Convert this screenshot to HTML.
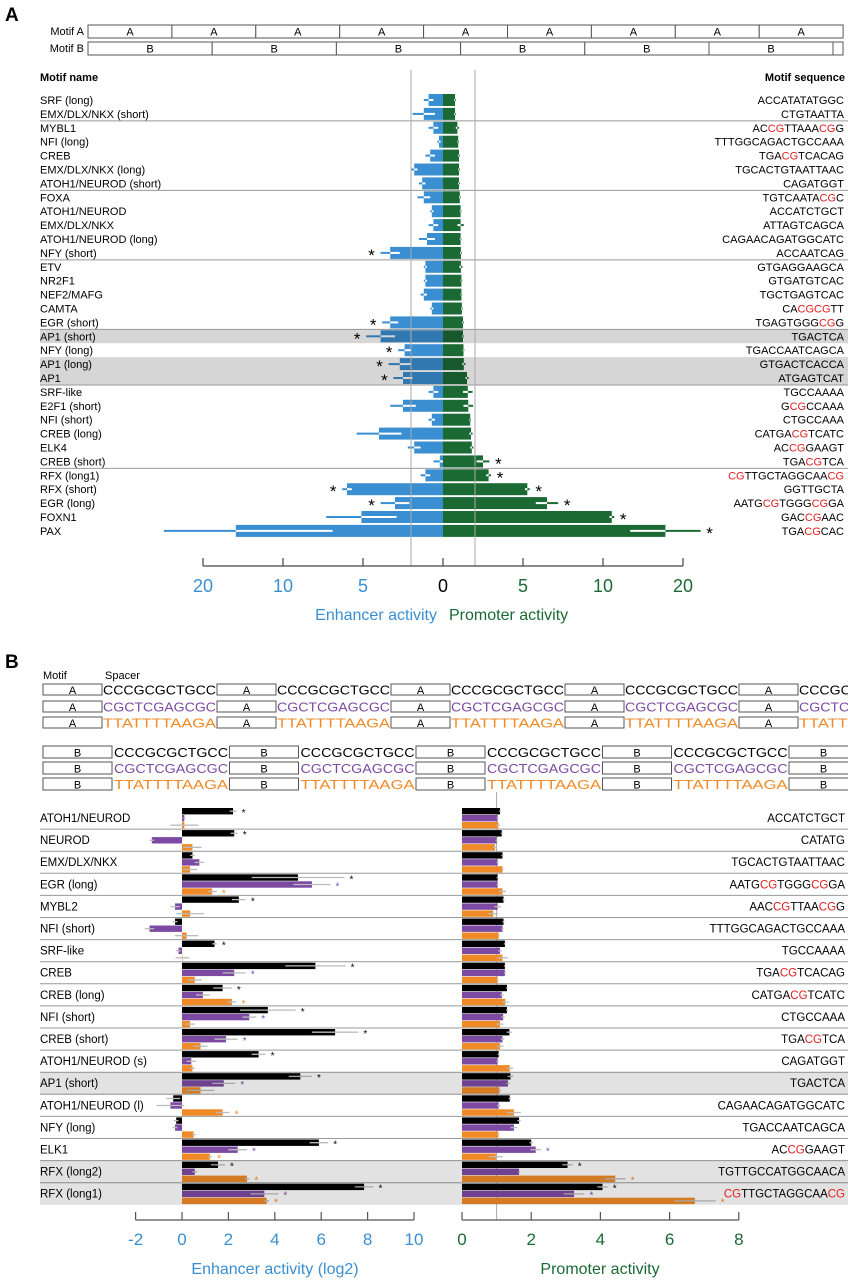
<!DOCTYPE html>
<html><head><meta charset="utf-8"><style>
html,body{margin:0;padding:0;background:#fff;}
svg{display:block;font-family:"Liberation Sans",Arial,sans-serif;}
</style></head><body>
<svg id="fig" width="848" height="1280" viewBox="0 0 848 1280" xmlns="http://www.w3.org/2000/svg"></svg>
<script>
// ---------- Panel A data ----------
const aNames=["SRF (long)","EMX/DLX/NKX (short)","MYBL1","NFI (long)","CREB","EMX/DLX/NKX (long)","ATOH1/NEUROD (short)","FOXA","ATOH1/NEUROD","EMX/DLX/NKX","ATOH1/NEUROD (long)","NFY (short)","ETV","NR2F1","NEF2/MAFG","CAMTA","EGR (short)","AP1 (short)","NFY (long)","AP1 (long)","AP1","SRF-like","E2F1 (short)","NFI (short)","CREB (long)","ELK4","CREB (short)","RFX (long1)","RFX (short)","EGR (long)","FOXN1","PAX"];
const aSeqs=["ACCATATATGGC","CTGTAATTA","AC[CG]TTAAA[CG]G","TTTGGCAGACTGCCAAA","TGA[CG]TCACAG","TGCACTGTAATTAAC","CAGATGGT","TGTCAATA[CG]C","ACCATCTGCT","ATTAGTCAGCA","CAGAACAGATGGCATC","ACCAATCAG","GTGAGGAAGCA","GTGATGTCAC","TGCTGAGTCAC","CA[CGCG]TT","TGAGTGGG[CG]G","TGACTCA","TGACCAATCAGCA","GTGACTCACCA","ATGAGTCAT","TGCCAAAA","G[CG]CCAAA","CTGCCAAA","CATGA[CG]TCATC","AC[CG]GAAGT","TGA[CG]TCA","[CG]TTGCTAGGCAA[CG]","GGTTGCTA","AATG[CG]TGGG[CG]GA","GAC[CG]AAC","TGA[CG]CAC"];
const aEnh=[0.9,1.2,0.6,0.25,0.8,1.8,1.3,1.2,0.7,0.6,1.0,3.3,1.1,1.1,1.2,0.7,3.3,3.9,2.4,2.7,2.5,0.6,2.5,0.7,4.0,1.8,0.2,1.1,6.0,3.0,5.1,15.9];
const aEnhErr=[0.3,0.7,0.3,0.1,0.3,0.2,0.2,0.4,0.1,0.3,0.5,0.6,0.1,0.1,0.2,0.1,0.5,0.9,0.4,0.7,0.6,0.3,0.8,0.2,1.4,0.4,0.4,0.3,0.3,0.9,2.2,9];
const aPro=[0.75,0.75,0.9,0.95,1.0,1.0,1.0,1.05,1.1,1.1,1.1,1.12,1.12,1.15,1.15,1.18,1.25,1.25,1.28,1.3,1.5,1.55,1.58,1.7,1.75,1.8,2.5,2.85,5.27,6.5,11.1,17.8];
const aProErr=[0.05,0.05,0.1,0.05,0.05,0.05,0.05,0.05,0.05,0.2,0.05,0.05,0.1,0.05,0.05,0.05,0.05,0.05,0.05,0.1,0.1,0.3,0.3,0.05,0.1,0.1,0.4,0.15,0.15,0.7,0.3,4.4];
const aEnhStar=[0,0,0,0,0,0,0,0,0,0,0,1,0,0,0,0,1,1,1,1,1,0,0,0,0,0,0,0,1,1,0,0];
const aProStar=[0,0,0,0,0,0,0,0,0,0,0,0,0,0,0,0,0,0,0,0,0,0,0,0,0,0,1,1,1,1,1,1];
const aShade=[17,19,20];
const aSeps=[1,6,11,16,20,26];
const aTickVals=[-20,-10,-5,0,5,10,20];
const aTickLabels=["20","10","5","0","5","10","20"];

// ---------- Panel B data ----------
const bNames=["ATOH1/NEUROD","NEUROD","EMX/DLX/NKX","EGR (long)","MYBL2","NFI (short)","SRF-like","CREB","CREB (long)","NFI (short)","CREB (short)","ATOH1/NEUROD (s)","AP1 (short)","ATOH1/NEUROD (l)","NFY (long)","ELK1","RFX (long2)","RFX (long1)"];
const bSeqs=["ACCATCTGCT","CATATG","TGCACTGTAATTAAC","AATG[CG]TGGG[CG]GA","AAC[CG]TTAA[CG]G","TTTGGCAGACTGCCAAA","TGCCAAAA","TGA[CG]TCACAG","CATGA[CG]TCATC","CTGCCAAA","TGA[CG]TCA","CAGATGGT","TGACTCA","CAGAACAGATGGCATC","TGACCAATCAGCA","AC[CG]GAAGT","TGTTGCCATGGCAACA","[CG]TTGCTAGGCAA[CG]"];
const bEnhK=[2.2,2.25,0.45,5.0,2.45,-0.3,1.4,5.75,1.75,3.7,6.6,3.3,5.1,-0.38,-0.25,5.9,1.55,7.85];
const bEnhP=[0.1,-1.3,0.75,5.6,-0.3,-1.4,-0.15,2.25,0.9,2.9,1.9,0.4,1.8,-0.5,-0.3,2.4,0.55,3.55];
const bEnhO=[0.1,0.45,0.35,1.3,0.35,0.2,0.02,0.55,2.15,0.35,0.8,0.45,0.8,1.75,0.5,1.2,2.8,3.65];
const bEnhKErr=[0.15,0.15,0.1,2.0,0.3,0.1,0.1,1.3,0.4,1.2,1.0,0.3,0.5,0.3,0.1,0.4,0.3,0.4];
const bEnhPErr=[0.05,0.1,0.2,0.8,0.2,0.2,0.1,0.5,0.3,0.3,0.5,0.2,0.5,0.6,0.1,0.4,0.1,0.6];
const bEnhOErr=[0.6,0.4,0.3,0.2,0.6,0.5,0.3,0.3,0.2,0.2,0.3,0.1,0.6,0.3,0.1,0.1,0.1,0.1];
const bProK=[1.1,1.15,1.17,1.03,1.2,1.2,1.24,1.24,1.3,1.3,1.37,1.06,1.4,1.38,1.65,2.0,3.05,4.06];
const bProP=[1.03,1.0,1.03,1.03,1.03,1.17,1.1,1.24,1.15,1.19,1.17,1.03,1.33,1.06,1.5,2.13,1.65,3.24];
const bProO=[1.05,0.95,1.17,1.17,0.9,1.06,1.17,1.03,1.25,1.1,1.1,1.38,1.08,1.5,1.05,0.98,4.43,6.73];
const bProKErr=[0.03,0.03,0.03,0.03,0.03,0.03,0.03,0.03,0.03,0.03,0.08,0.03,0.08,0.03,0.05,0.05,0.15,0.15];
const bProPErr=[0.03,0.03,0.03,0.03,0.1,0.03,0.05,0.03,0.05,0.05,0.05,0.03,0.05,0.05,0.1,0.15,0.03,0.3];
const bProOErr=[0.05,0.05,0.03,0.1,0.15,0.03,0.15,0.03,0.1,0.1,0.1,0.1,0.05,0.2,0.03,0.2,0.3,0.6];
const bEnhKStar=[1,1,0,1,1,0,1,1,1,1,1,1,1,0,0,1,1,1];
const bEnhPStar=[0,0,0,1,0,0,0,1,0,1,1,0,1,0,0,1,0,1];
const bEnhOStar=[0,0,0,1,0,0,0,0,1,0,0,0,0,1,0,1,1,1];
const bProKStar=[0,0,0,0,0,0,0,0,0,0,0,0,0,0,0,0,1,1];
const bProPStar=[0,0,0,0,0,0,0,0,0,0,0,0,0,0,0,1,0,1];
const bProOStar=[0,0,0,0,0,0,0,0,0,0,0,0,0,0,0,0,1,1];
const bShade=[12,16,17];
const bEnhTicks=[-2,0,2,4,6,8,10];
const bProTicks=[0,2,4,6,8];

const NS="http://www.w3.org/2000/svg";
const svg=document.getElementById("fig");
const BLUE="#3a8fd2", GREEN="#1b6a34", PURPLE="#7d4aa3", ORANGE="#f08a26";
function mk(tag,attrs,parent){const e=document.createElementNS(NS,tag);for(const k in attrs)e.setAttribute(k,attrs[k]);(parent||svg).appendChild(e);return e;}
function txt(s,attrs,parent){const e=mk("text",attrs,parent);e.textContent=s;return e;}
function seqText(s,x,y,size,name){
  const t=mk("text",{x:x,y:y,"font-size":size,"text-anchor":"end",fill:"#000"});
  
  
  const parts=s.split(/(\[[A-Z]+\])/);
  parts.forEach(p=>{if(!p)return;const ts=mk("tspan",{},t);if(p[0]=="["){ts.textContent=p.slice(1,-1);ts.setAttribute("fill","#e02020");}else ts.textContent=p;});
  return t;
}

// ---------- Panel A ----------
let e;
e=txt("A",{x:5,y:21,"font-size":19,"font-weight":"bold"});


e=txt("Motif A",{x:84,y:35,"font-size":11,"text-anchor":"end"});


e=txt("Motif B",{x:84,y:52,"font-size":11,"text-anchor":"end"});


for(let k=0;k<9;k++){
  const x=88+k*83.9;
  e=mk("rect",{x:x,y:25,width:83.9,height:13,fill:"#fff",stroke:"#555","stroke-width":1});
  
  
  e=txt("A",{x:x+42,y:35.5,"font-size":11,"text-anchor":"middle"});
  
  
}
for(let k=0;k<6;k++){
  const x=88+k*124.2;
  e=mk("rect",{x:x,y:42,width:124.2,height:13,fill:"#fff",stroke:"#555","stroke-width":1});
  
  
  e=txt("B",{x:x+62,y:52.5,"font-size":11,"text-anchor":"middle"});
  
  
}
e=mk("rect",{x:833,y:42,width:10,height:13,fill:"#fff",stroke:"#555","stroke-width":1});



e=txt("Motif name",{x:40,y:81,"font-size":11,"font-weight":"bold"});


e=txt("Motif sequence",{x:845,y:81,"font-size":11,"font-weight":"bold","text-anchor":"end"});



const A0=443;
function fA(v){v=Math.abs(v);return v<=10?v*16:160+(v-10)*8;}
function xEnhA(v){return A0-fA(v);}
function xProA(v){return A0+fA(v);}
function yA(i){return 100+13.9*i;}

const gA=mk("g",{});


aNames.forEach((n,i)=>{
  const y=yA(i);
  e=mk("rect",{x:xEnhA(aEnh[i]),y:y-6,width:A0-xEnhA(aEnh[i]),height:12,fill:BLUE},gA);
  
  
  e=mk("rect",{x:A0,y:y-6,width:xProA(aPro[i])-A0,height:12,fill:GREEN},gA);
  
  
  // error bars
  e=mk("line",{x1:xEnhA(aEnh[i]),x2:xEnhA(aEnh[i]+aEnhErr[i]),y1:y,y2:y,stroke:BLUE,"stroke-width":2},gA);
  
  
  e=mk("line",{x1:xEnhA(aEnh[i]),x2:xEnhA(Math.max(aEnh[i]-aEnhErr[i],0)),y1:y,y2:y,stroke:"#fff","stroke-width":2},gA);
  
  
  e=mk("line",{x1:xProA(aPro[i]),x2:xProA(aPro[i]+aProErr[i]),y1:y,y2:y,stroke:GREEN,"stroke-width":2},gA);
  
  
  e=mk("line",{x1:xProA(aPro[i]),x2:xProA(Math.max(aPro[i]-aProErr[i],0)),y1:y,y2:y,stroke:"#fff","stroke-width":2},gA);
  
  
  if(aEnhStar[i]){
    e=txt("*",{x:xEnhA(aEnh[i]+aEnhErr[i])-9,y:y+8,"font-size":17,"text-anchor":"middle"},gA);
    
    
  }
  if(aProStar[i]){
    e=txt("*",{x:xProA(aPro[i]+aProErr[i])+9,y:y+8,"font-size":17,"text-anchor":"middle"},gA);
    
    
  }
  e=txt(n,{x:40,y:y+4,"font-size":11},gA);
  
  
  seqText(aSeqs[i],844,y+4,11,'motif-sequence-label');
});
aShade.forEach(i=>{
  e=mk("rect",{x:40,y:yA(i)-7,width:808,height:13.9,fill:"#d6d6d6",style:"mix-blend-mode:multiply"},gA);
  
  
});
aSeps.forEach(i=>{
  e=mk("line",{x1:40,x2:848,y1:yA(i)+7,y2:yA(i)+7,stroke:"#999","stroke-width":1},gA);
  
  
});
[-2,2].forEach(v=>{
  const x=v<0?xEnhA(v):xProA(v);
  e=mk("line",{x1:x,x2:x,y1:70,y2:566,stroke:"#aaa","stroke-width":1},gA);
  
  
});
e=mk("line",{x1:xEnhA(20),x2:xProA(20),y1:566,y2:566,stroke:"#444","stroke-width":1.2},gA);


aTickVals.forEach((v,k)=>{
  const x=v<0?xEnhA(v):xProA(v);
  e=mk("line",{x1:x,x2:x,y1:558,y2:566,stroke:"#444","stroke-width":1.2},gA);
  
  
  e=txt(aTickLabels[k],{x:x,y:592,"font-size":18,"text-anchor":"middle",fill:v<0?BLUE:(v>0?GREEN:"#000")},gA);
  
  
});
e=txt("Enhancer activity",{x:437,y:620,"font-size":16,"text-anchor":"end",fill:BLUE});


e=txt("Promoter activity",{x:449,y:620,"font-size":16,fill:GREEN});



// ---------- Panel B header ----------
e=txt("B",{x:5,y:668,"font-size":19,"font-weight":"bold"});


e=txt("Motif",{x:43,y:679,"font-size":11});


e=txt("Spacer",{x:105,y:679,"font-size":11});


const spacers=["CCCGCGCTGCC","CGCTCGAGCGC","TTATTTTAAGA"];
const spColors=["#000",PURPLE,ORANGE];
[684,701,717].forEach((y,r)=>{
  for(let k=0;k<5;k++){
    const x=43+k*174;
    e=mk("rect",{x:x,y:y,width:59,height:11,fill:"#fff",stroke:"#555","stroke-width":1});
    
    
    e=txt("A",{x:x+29.5,y:y+10,"font-size":11,"text-anchor":"middle"});
    
    
    e=txt(spacers[r],{x:x+60,y:y+10.5,"font-size":12.5,fill:spColors[r],textLength:113,lengthAdjust:"spacingAndGlyphs"});
    
    
  }
});
[746,762,778].forEach((y,r)=>{
  for(let k=0;k<5;k++){
    const x=43+k*186.5;
    e=mk("rect",{x:x,y:y,width:69,height:12,fill:"#fff",stroke:"#555","stroke-width":1});
    
    
    e=txt("B",{x:x+34.5,y:y+10.5,"font-size":11,"text-anchor":"middle"});
    
    
    if(k<4){
      e=txt(spacers[r],{x:x+71,y:y+11,"font-size":12.5,fill:spColors[r],textLength:114,lengthAdjust:"spacingAndGlyphs"});
      
      
    }
  }
});

// ---------- Panel B chart ----------
function xBE(v){return 182+23.2*v;}
function xBP(v){return 462+34.6*v;}
function tB(i){return 807+22.1*i;}
const gB=mk("g",{});


e=mk("line",{x1:xBP(1),x2:xBP(1),y1:792,y2:1220,stroke:"#aaa","stroke-width":1},gB);


function bBar(xf,v,err,star,y,color,name){
  const x0=xf(0),x1=xf(v);
  e=mk("rect",{x:Math.min(x0,x1),y:y,width:Math.abs(x1-x0),height:6.4,fill:color},gB);
  
  
  e=mk("line",{x1:xf(v-err*Math.sign(v||1)),x2:xf(v+err*Math.sign(v||1)),y1:y+3.2,y2:y+3.2,stroke:"#bbb","stroke-width":1.3},gB);
  
  
  if(star){
    const xe=xf(v+err*Math.sign(v||1));
    e=txt("*",{x:xe+(v>=0?7:-7),y:y+8,"font-size":10,"text-anchor":"middle",fill:color},gB);
    
    
  }
}
bNames.forEach((n,i)=>{
  const t=tB(i);
  bBar(xBE,bEnhK[i],bEnhKErr[i],bEnhKStar[i],t+1,"#000",'enhancer-bar-cccgcgctgcc');
  bBar(xBE,bEnhP[i],bEnhPErr[i],bEnhPStar[i],t+8,PURPLE,'enhancer-bar-cgctcgagcgc');
  bBar(xBE,bEnhO[i],bEnhOErr[i],bEnhOStar[i],t+15,ORANGE,'enhancer-bar-ttattttaaga');
  bBar(xBP,bProK[i],bProKErr[i],bProKStar[i],t+1,"#000",'promoter-bar-cccgcgctgcc');
  bBar(xBP,bProP[i],bProPErr[i],bProPStar[i],t+8,PURPLE,'promoter-bar-cgctcgagcgc');
  bBar(xBP,bProO[i],bProOErr[i],bProOStar[i],t+15,ORANGE,'promoter-bar-ttattttaaga');
  e=txt(n,{x:40,y:t+15,"font-size":11.5},gB);
  
  
  seqText(bSeqs[i],845,t+15,11.5,'motif-sequence-label-b');
  if(i<bNames.length-1){
    e=mk("line",{x1:40,x2:848,y1:t+22.1,y2:t+22.1,stroke:"#999","stroke-width":1},gB);
    
    
  }
});
bShade.forEach(i=>{
  e=mk("rect",{x:40,y:tB(i),width:808,height:22.1,fill:"#e2e2e2",style:"mix-blend-mode:multiply"},gB);
  
  
});
e=mk("line",{x1:xBE(-2),x2:xBE(10),y1:1220,y2:1220,stroke:"#555","stroke-width":1.2},gB);


bEnhTicks.forEach(v=>{
  e=mk("line",{x1:xBE(v),x2:xBE(v),y1:1212,y2:1220,stroke:"#555","stroke-width":1.2},gB);
  
  
  e=txt(String(v),{x:xBE(v),y:1245,"font-size":17,"text-anchor":"middle",fill:BLUE},gB);
  
  
});
e=mk("line",{x1:xBP(0),x2:xBP(8),y1:1220,y2:1220,stroke:"#555","stroke-width":1.2},gB);


bProTicks.forEach(v=>{
  e=mk("line",{x1:xBP(v),x2:xBP(v),y1:1212,y2:1220,stroke:"#555","stroke-width":1.2},gB);
  
  
  e=txt(String(v),{x:xBP(v),y:1245,"font-size":17,"text-anchor":"middle",fill:GREEN},gB);
  
  
});
e=txt("Enhancer activity (log2)",{x:275,y:1274,"font-size":16,"text-anchor":"middle",fill:BLUE});


e=txt("Promoter activity",{x:600,y:1274,"font-size":16,"text-anchor":"middle",fill:GREEN});


</script>
</body></html>
